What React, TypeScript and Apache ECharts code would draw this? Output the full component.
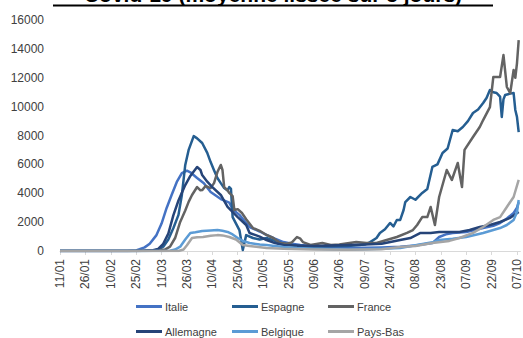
import React, { useEffect, useRef } from "react";
import * as echarts from "echarts";

const tickLabels = [
  "11/01", "26/01", "10/02", "25/02", "11/03", "26/03", "10/04", "25/04", "10/05", "25/05",
  "09/06", "24/06", "09/07", "24/07", "08/08", "23/08", "07/09", "22/09", "07/10",
];

// [day index since 11/01, value]
const italie: [number, number][] = [
  [0, 0], [30, 0], [40, 5], [45, 40], [47, 120], [50, 250], [53, 500], [57, 1100], [60, 1900],
  [63, 2980], [66, 3900], [69, 4780], [72, 5400], [75, 5560], [77, 5450], [81, 5060], [85, 4700],
  [89, 4090], [95, 3600], [100, 3350], [102, 2900], [106, 2500], [112, 1660], [118, 1350],
  [122, 1110], [127, 850], [132, 620], [137, 500], [142, 420], [150, 330], [160, 280], [170, 230],
  [180, 220], [190, 250], [201, 290], [210, 380], [220, 550], [224, 970], [228, 1150], [232, 1250],
  [240, 1320], [250, 1590], [256, 1750], [260, 1940], [264, 2250], [268, 2630], [270, 3000], [271, 3390],
];

const espagne: [number, number][] = [
  [0, 0], [50, 0], [55, 20], [58, 100], [61, 300], [64, 800], [67, 1590], [70, 2500], [72, 3880],
  [74, 5960], [76, 7000], [79, 7960], [81, 7800], [84, 7480], [87, 6800], [89, 6160], [91, 5600],
  [93, 5060], [95, 4700], [97, 4360], [99, 4200], [100, 4430], [101, 4300], [102, 2350], [104, 1900],
  [106, 1450], [108, 70], [110, 1100], [114, 900], [118, 800], [122, 900], [127, 700], [132, 500],
  [137, 400], [142, 300], [150, 300], [160, 330], [170, 350], [180, 450], [183, 600], [187, 900],
  [189, 1250], [192, 1500], [195, 1940], [197, 1700], [199, 2150], [201, 2150], [203, 2840],
  [204, 3390], [207, 3740], [210, 3550], [214, 4020], [217, 4300], [220, 5820], [223, 6000],
  [226, 6790], [229, 7100], [232, 8380], [235, 8300], [238, 8590], [241, 9000], [244, 9560],
  [247, 9800], [250, 10250], [252, 10600], [254, 11150], [256, 11000], [258, 10940], [260, 10700],
  [261, 9280], [262, 10500], [263, 10800], [266, 10900], [268, 10940], [269, 9770], [270, 9280], [271, 8240],
];

const france: [number, number][] = [
  [0, 0], [40, 0], [50, 10], [58, 50], [62, 100], [65, 300], [68, 900], [71, 2010], [74, 2800],
  [76, 3400], [78, 3880], [81, 4430], [83, 4200], [84, 4220], [86, 4500], [89, 4360], [91, 4700],
  [93, 5470], [95, 5960], [96, 5610], [97, 4430], [99, 4200], [100, 4020], [102, 3800], [103, 2840],
  [105, 2900], [107.5, 2630], [110, 2200], [114, 1590], [118, 1400], [122, 1110], [126, 900],
  [130, 550], [134, 500], [137, 600], [140, 970], [142, 850], [143.5, 620], [148, 420], [155, 550],
  [160, 420], [165, 450], [171, 550], [175, 620], [181, 550], [187, 550], [193, 760], [199, 970],
  [205, 1250], [208.5, 1450], [211, 1800], [214, 2350], [217, 2350], [219, 3050], [221.5, 1800],
  [224, 3740], [228.5, 5610], [231.5, 4920], [235, 6100], [237.5, 4430], [239, 7000], [244, 7900],
  [248, 8590], [250, 9070], [254, 9970], [256, 12050], [260, 12050], [262, 13570], [264, 11360],
  [266, 10940], [268, 12540], [269, 12000], [270, 13020], [271, 14610],
];

const allemagne: [number, number][] = [
  [0, 0], [45, 0], [55, 50], [58, 150], [61, 500], [64, 1200], [67, 2490], [70, 3500], [74, 4570],
  [77, 5200], [81, 5820], [83, 5610], [84, 5260], [87, 4800], [90, 4430], [95, 3880], [99, 3050],
  [105, 2350], [110, 1800], [112, 1250], [118, 1000], [122, 760], [127, 550], [132, 420], [140, 380],
  [150, 350], [160, 380], [170, 420], [180, 450], [190, 500], [201, 760], [207, 900], [213, 1250],
  [219, 1250], [224, 1320], [230, 1320], [236, 1320], [242, 1450], [248, 1660], [254, 1800],
  [260, 2010], [266, 2300], [271, 2700],
];

const belgique: [number, number][] = [
  [0, 0], [60, 0], [65, 20], [68, 100], [71, 300], [74, 800], [77, 1250], [80, 1300], [84, 1390],
  [89, 1420], [93, 1450], [96, 1400], [99, 1320], [102, 1150], [105, 900], [108, 700], [112, 550],
  [118, 450], [122, 420], [127, 350], [132, 280], [140, 200], [150, 150], [160, 120], [170, 100],
  [180, 120], [190, 150], [201, 210], [210, 400], [215, 500], [220, 600], [224, 760], [232, 850],
  [240, 970], [250, 1250], [256, 1450], [260, 1590], [264, 1800], [268, 2150], [270, 2700], [271, 3530],
];

const paysBas: [number, number][] = [
  [0, 0], [70, 0], [73, 100], [75, 400], [78, 900], [81, 950], [84.5, 970], [89, 1050], [93, 1100],
  [96, 1080], [100, 970], [104, 800], [108, 420], [112, 350], [122, 210], [132, 150], [150, 100],
  [170, 80], [190, 120], [201, 280], [210, 350], [220, 550], [230, 700], [236, 900], [244, 1250],
  [250, 1660], [256, 2150], [260, 2350], [264, 3050], [268, 3740], [271, 4920],
];

const seriesNames = ["Italie", "Espagne", "France", "Allemagne", "Belgique", "Pays-Bas"];
const seriesData = [italie, espagne, france, allemagne, belgique, paysBas];
const seriesColors = ["#4472C4", "#255E91", "#636363", "#264478", "#5B9BD5", "#A5A5A5"];

const FONT = "'Liberation Sans', Arial, sans-serif";

export default function App() {
  const ref = useRef<HTMLDivElement>(null);

  useEffect(() => {
    if (!ref.current) return;
    const chart = echarts.init(ref.current, undefined, { renderer: "svg" });

    const legendPos = [
      { left: 136, top: 306 },
      { left: 232, top: 306 },
      { left: 328, top: 306 },
      { left: 136, top: 331 },
      { left: 232, top: 331 },
      { left: 328, top: 331 },
    ];

    chart.setOption({
      animation: false,
      textStyle: { fontFamily: FONT },
      grid: { left: 60, right: 2.5, top: 20, bottom: 87, containLabel: false },
      xAxis: {
        type: "value",
        min: 0,
        max: 272,
        interval: 15,
        axisLine: { show: true, lineStyle: { color: "#D9D9D9", width: 1 } },
        axisTick: { show: true, length: 4, lineStyle: { color: "#D9D9D9" } },
        splitLine: { show: false },
        axisLabel: {
          rotate: 90,
          margin: 8,
          fontSize: 12,
          color: "#404040",
          fontFamily: FONT,
          showMaxLabel: false,
          formatter: (v: number) => {
            const i = Math.round(v / 15);
            return Math.abs(v - i * 15) < 0.01 && tickLabels[i] ? tickLabels[i] : "";
          },
        },
      },
      yAxis: {
        type: "value",
        min: 0,
        max: 16000,
        interval: 2000,
        axisLine: { show: false },
        axisTick: { show: false },
        splitLine: { show: false },
        axisLabel: {
          fontSize: 12,
          color: "#404040",
          margin: 16,
          fontFamily: FONT,
          formatter: (v: number) => String(v),
        },
      },
      legend: seriesNames.map((n, i) => ({
        data: [n],
        left: legendPos[i].left,
        top: legendPos[i].top - 5,
        padding: 0,
        icon: "rect",
        itemWidth: 26,
        itemHeight: 3,
        itemGap: 0,
        selectedMode: false,
        textStyle: { fontSize: 11, color: "#404040", fontFamily: FONT, padding: [0, 0, 0, -2] },
      })),
      graphic: [
        {
          type: "text",
          x: 273,
          y: 5,
          style: {
            text: "Covid-19 (moyenne lissée sur 5 jours)",
            textAlign: "center",
            textVerticalAlign: "bottom",
            font: `bold 21px ${FONT}`,
            fill: "#000",
          },
        },
        {
          type: "rect",
          shape: { x: 53, y: 4.5, width: 440, height: 2 },
          style: { fill: "#000" },
        },
      ],
      series: seriesNames.map((n, i) => ({
        name: n,
        type: "line",
        data: seriesData[i],
        showSymbol: false,
        symbol: "none",
        color: seriesColors[i],
        lineStyle: { color: seriesColors[i], width: 2.5, join: "round" },
      })),
    });

    return () => chart.dispose();
  }, []);

  return (
    <div
      ref={ref}
      style={{ position: "fixed", left: 0, top: 0, width: 523, height: 338, background: "#fff" }}
    />
  );
}
